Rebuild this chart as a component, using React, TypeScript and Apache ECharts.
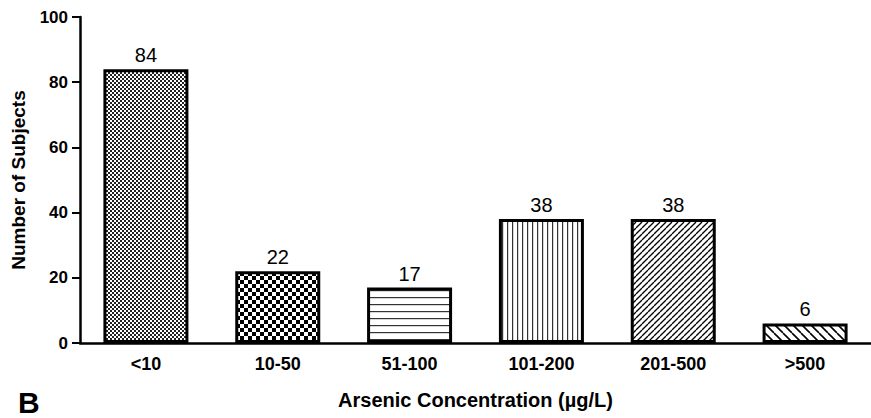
import React, { useEffect, useRef } from "react";
import * as echarts from "echarts";

const categories = ["<10", "10-50", "51-100", "101-200", "201-500", ">500"];
const subjects = [84, 22, 17, 38, 38, 6];
const patternKinds = ["fineChecker", "coarseChecker", "hLines", "vLines", "diagUp", "diagDown"];

function makePattern(kind: string): HTMLCanvasElement {
  const c = document.createElement("canvas");
  let size = 8;
  if (kind === "fineChecker") size = 4;
  if (kind === "coarseChecker") size = 8;
  if (kind === "hLines") size = 7;
  if (kind === "vLines") size = 5;
  if (kind === "diagUp") size = 6;
  if (kind === "diagDown") size = 9;
  c.width = size;
  c.height = size;
  const ctx = c.getContext("2d")!;
  ctx.fillStyle = "#fff";
  ctx.fillRect(0, 0, size, size);
  ctx.fillStyle = "#000";
  ctx.strokeStyle = "#000";
  if (kind === "fineChecker") {
    ctx.fillStyle = "#222";
    ctx.fillRect(0, 0, 2, 2);
    ctx.fillRect(2, 2, 2, 2);
  } else if (kind === "coarseChecker") {
    ctx.fillRect(0, 0, 4, 4);
    ctx.fillRect(4, 4, 4, 4);
  } else if (kind === "hLines") {
    ctx.fillStyle = "#333";
    ctx.fillRect(0, 3, size, 1.2);
  } else if (kind === "vLines") {
    ctx.fillStyle = "#333";
    ctx.fillRect(2, 0, 1.2, size);
  } else if (kind === "diagUp") {
    ctx.lineWidth = 1.3;
    for (let k = -1; k <= 1; k++) {
      ctx.beginPath();
      ctx.moveTo(k * size, size);
      ctx.lineTo(k * size + size, 0);
      ctx.stroke();
    }
  } else if (kind === "diagDown") {
    ctx.lineWidth = 1.6;
    for (let k = -1; k <= 1; k++) {
      ctx.beginPath();
      ctx.moveTo(k * size, 0);
      ctx.lineTo(k * size + size, size);
      ctx.stroke();
    }
  }
  return c;
}

export default function App() {
  const ref = useRef<HTMLDivElement>(null);
  useEffect(() => {
    if (!ref.current) return;
    const chart = echarts.init(ref.current, undefined, { renderer: "svg" });
    const font = "'Liberation Sans', Arial, sans-serif";
    chart.setOption({
      animation: false,
      backgroundColor: "#fff",
      grid: { left: 80, top: 17, height: 326, width: 802, containLabel: false },
      xAxis: {
        type: "category",
        data: categories,
        name: "Arsenic Concentration (µg/L)",
        nameLocation: "middle",
        nameGap: 47,
        nameTextStyle: { fontFamily: font, fontWeight: "bold", fontSize: 20, color: "#000" },
        axisLine: { lineStyle: { color: "#000", width: 2.5 } },
        axisTick: { alignWithLabel: true, length: 8, lineStyle: { color: "#000", width: 2 } },
        axisLabel: { fontFamily: font, fontWeight: "bold", fontSize: 18, color: "#000", margin: 12 },
      },
      yAxis: {
        type: "value",
        min: 0,
        max: 100,
        interval: 20,
        name: "Number of Subjects",
        nameLocation: "middle",
        nameGap: 52,
        nameTextStyle: { fontFamily: font, fontWeight: "bold", fontSize: 19, color: "#000" },
        axisLine: { show: true, lineStyle: { color: "#000", width: 2.5 } },
        axisTick: { show: true, length: 8, lineStyle: { color: "#000", width: 2 } },
        axisLabel: { fontFamily: font, fontWeight: "bold", fontSize: 17, color: "#000", margin: 12 },
        splitLine: { show: false },
      },
      graphic: [
        {
          type: "text",
          left: 18,
          top: 387,
          style: { text: "B", fontFamily: font, fontWeight: "bold", fontSize: 30, lineHeight: 30, fill: "#000" },
        },
      ],
      series: [
        {
          type: "bar",
          barWidth: 85,
          data: subjects.map((v, i) => ({
            value: v,
            itemStyle: {
              color: { image: makePattern(patternKinds[i]), repeat: "repeat" },
              borderColor: "#000",
              borderWidth: 3,
            },
          })),
          label: {
            show: true,
            position: "top",
            distance: 4,
            fontFamily: font,
            fontSize: 20,
            color: "#000",
          },
        },
      ],
    });
    return () => chart.dispose();
  }, []);
  return (
    <div
      ref={ref}
      style={{ position: "fixed", left: 0, top: 0, width: 871, height: 418 }}
    />
  );
}
